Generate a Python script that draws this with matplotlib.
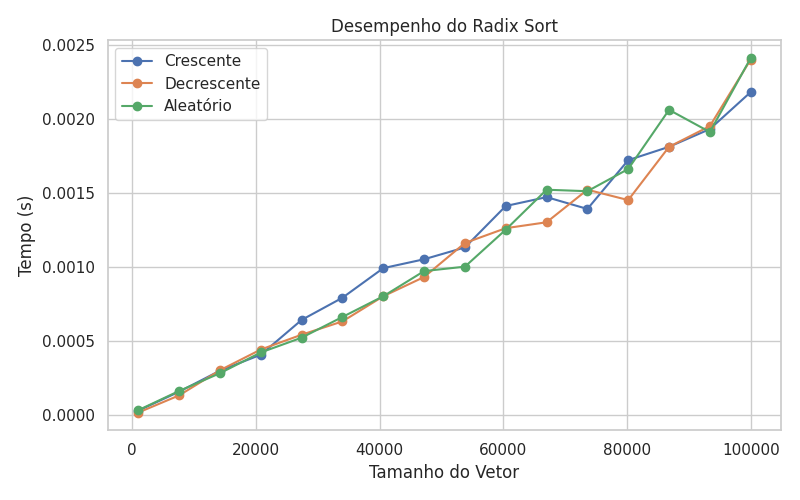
import matplotlib
matplotlib.use('Agg')
import seaborn as sns
from matplotlib import pyplot as plt

tamanhos: list[int] = [1000, 7600, 14200, 20800, 27400, 34000, 40600, 47200,
                       53800, 60400, 67000, 73600, 80200, 86800, 93400, 100000]
crescente: list[float] = [0.000027, 0.000155, 0.000297, 0.000405, 0.00064, 0.00079, 0.00099, 0.00105,
                          0.00113, 0.00141, 0.00147, 0.00139, 0.00172, 0.00181, 0.00193, 0.00218]
decrescente: list[float] = [0.000014, 0.00013, 0.0003, 0.00044, 0.00054, 0.00063, 0.0008, 0.00093,
                            0.00116, 0.00126, 0.0013, 0.00152, 0.00145, 0.00181, 0.00195, 0.0024]
aleatorio: list[float] = [0.00003, 0.00016, 0.00028, 0.00042, 0.00052, 0.00066, 0.0008, 0.00097,
                          0.001, 0.00125, 0.00152, 0.00151, 0.00166, 0.00206, 0.00191, 0.00241]

sns.set_theme(style='whitegrid')
fig, ax = plt.subplots(figsize=(8, 5), dpi=100)

ax.plot(tamanhos, crescente, marker='o', label='Crescente')
ax.plot(tamanhos, decrescente, marker='o', label='Decrescente')
ax.plot(tamanhos, aleatorio, marker='o', label='Aleatório')

for spine in ax.spines.values():
    spine.set_edgecolor('#cccccc')

ax.set_title('Desempenho do Radix Sort')
ax.set_xlabel('Tamanho do Vetor')
ax.set_ylabel('Tempo (s)')
ax.legend(loc='upper left')
plt.tight_layout()
plt.savefig('out.png')
